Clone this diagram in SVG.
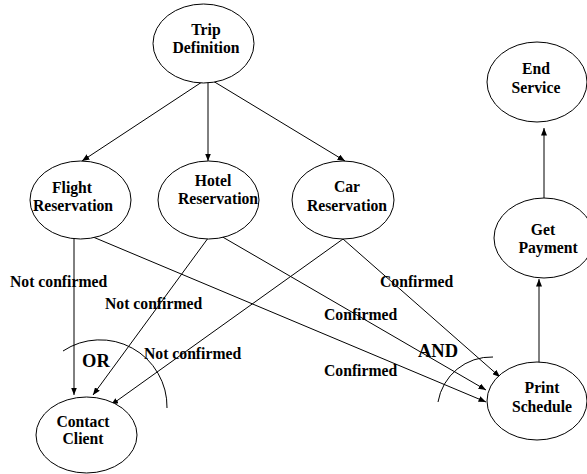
<svg xmlns="http://www.w3.org/2000/svg" width="587" height="474" viewBox="0 0 587 474">
  <style>
    .node ellipse { fill: #fff; stroke: #000; stroke-width: 1; }
    text { font-family: "Liberation Serif", "Times New Roman", serif; font-weight: bold; fill: #000; }
    .nt { font-size: 15.7px; text-anchor: middle; }
    .lbl { font-size: 15.7px; }
    .gate { font-size: 18.5px; }
    .edge { stroke: #000; stroke-width: 1; fill: none; marker-end: url(#arrow); }
    .arc { stroke: #000; stroke-width: 1; fill: none; }
  </style>
  <defs>
    <marker id="arrow" markerUnits="userSpaceOnUse" markerWidth="8" markerHeight="6" refX="7.5" refY="3" orient="auto">
      <path d="M0,0 L7.5,3 L0,6 z" fill="#000"/>
    </marker>
  </defs>
  <rect width="587" height="474" fill="#fff"/>

  <!-- connectors -->
  <g id="connectors">
    <line class="edge" x1="208" y1="78" x2="82" y2="161"/>
    <line class="edge" x1="208" y1="78" x2="208" y2="161"/>
    <line class="edge" x1="208" y1="78" x2="345" y2="161"/>
    <line class="edge" x1="74" y1="229" x2="74" y2="395"/>
    <line class="edge" x1="214" y1="230" x2="93" y2="395"/>
    <line class="edge" x1="343" y1="239" x2="111" y2="405"/>
    <line class="edge" x1="74" y1="229" x2="486" y2="402"/>
    <line class="edge" x1="214" y1="232" x2="486" y2="390"/>
    <line class="edge" x1="343" y1="239" x2="500" y2="377"/>
    <line class="edge" x1="539" y1="363" x2="539" y2="279"/>
    <line class="edge" x1="544" y1="198" x2="544" y2="128"/>
    <!-- join arcs -->
    <path class="arc" d="M63,351 A67,67 0 0 1 167,408"/>
    <path class="arc" d="M438,402 A54,54 0 0 1 493,357"/>
  </g>

  <!-- edge labels -->
  <g id="labels">
    <text class="lbl" x="10" y="287">Not confirmed</text>
    <text class="lbl" x="105" y="309">Not confirmed</text>
    <text class="lbl" x="144" y="359">Not confirmed</text>
    <text class="lbl" x="380" y="287">Confirmed</text>
    <text class="lbl" x="324" y="320">Confirmed</text>
    <text class="lbl" x="324" y="376">Confirmed</text>
    <text class="gate" x="82" y="367">OR</text>
    <text class="gate" x="418" y="357">AND</text>
  </g>

  <!-- nodes -->
  <g id="trip-definition" class="node">
    <ellipse cx="203.5" cy="43.5" rx="50.5" ry="39.5"/>
    <text class="nt" x="206" y="35">Trip</text>
    <text class="nt" x="206" y="53">Definition</text>
  </g>
  <g id="flight-reservation" class="node">
    <ellipse cx="80.5" cy="200" rx="50.5" ry="39"/>
    <text class="nt" x="72" y="193">Flight</text>
    <text class="nt" x="73" y="211">Reservation</text>
  </g>
  <g id="hotel-reservation" class="node">
    <ellipse cx="208.5" cy="200" rx="50.5" ry="39"/>
    <text class="nt" x="213" y="186">Hotel</text>
    <text class="nt" x="218" y="204">Reservation</text>
  </g>
  <g id="car-reservation" class="node">
    <ellipse cx="343" cy="200" rx="51" ry="39"/>
    <text class="nt" x="347" y="192">Car</text>
    <text class="nt" x="347" y="211">Reservation</text>
  </g>
  <g id="end-service" class="node">
    <ellipse cx="537" cy="82" rx="50" ry="40"/>
    <text class="nt" x="536" y="74">End</text>
    <text class="nt" x="536" y="93">Service</text>
  </g>
  <g id="get-payment" class="node">
    <ellipse cx="544" cy="238" rx="50" ry="40"/>
    <text class="nt" x="543" y="235">Get</text>
    <text class="nt" x="548" y="253">Payment</text>
  </g>
  <g id="print-schedule" class="node">
    <ellipse cx="537" cy="401" rx="50" ry="39"/>
    <text class="nt" x="542" y="393">Print</text>
    <text class="nt" x="542" y="412">Schedule</text>
  </g>
  <g id="contact-client" class="node">
    <ellipse cx="86.5" cy="435" rx="50.5" ry="38"/>
    <text class="nt" x="83" y="427">Contact</text>
    <text class="nt" x="83" y="444">Client</text>
  </g>
</svg>
